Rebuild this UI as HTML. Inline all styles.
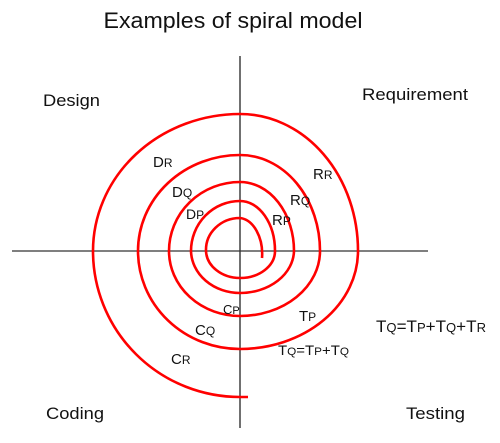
<!DOCTYPE html>
<html><head><meta charset="utf-8"><style>
html,body{margin:0;padding:0;background:#fff;}
svg text{font-family:"Liberation Sans",sans-serif;fill:#111;}
.s{font-size:12px}
</style></head><body>
<svg width="500" height="438" viewBox="0 0 500 438" xmlns="http://www.w3.org/2000/svg">
<text x="233" y="28" font-size="22.5" text-anchor="middle" textLength="259" lengthAdjust="spacingAndGlyphs">Examples of spiral model</text>
<line x1="240" y1="56" x2="240" y2="428" stroke="#111" stroke-width="1.2"/>
<line x1="12" y1="251" x2="428" y2="251" stroke="#333" stroke-width="1.2"/>
<path fill="none" stroke="#f00" stroke-width="2.6" d="M262,258 A24,36 0 0 0 240,218 A34,32 0 0 0 206,251 A34,28 0 0 0 240,278 A35,27 0 0 0 275,251 A35,50 0 0 0 240,201 A49,50 0 0 0 191,251 A49,43 0 0 0 240,293 A54,43 0 0 0 294,251 A54,69 0 0 0 240,182 A71,69 0 0 0 169,251 A71,65 0 0 0 240,316 A80,65 0 0 0 320,251 A80,96 0 0 0 240,155 A102,96 0 0 0 138,251 A102,98 0 0 0 240,349 A118,98 0 0 0 358,251 A118,137 0 0 0 240,114 A147,137 0 0 0 93,251 A147,146 0 0 0 240,397 L248,397"/>
<g font-size="17">
<text x="43" y="106" textLength="57" lengthAdjust="spacingAndGlyphs">Design</text>
<text x="362" y="100" textLength="106" lengthAdjust="spacingAndGlyphs">Requirement</text>
<text x="46" y="419" textLength="58" lengthAdjust="spacingAndGlyphs">Coding</text>
<text x="406" y="419" textLength="59" lengthAdjust="spacingAndGlyphs">Testing</text>
</g>
<g font-size="15">
<text x="153" y="167">D<tspan class="s">R</tspan></text>
<text x="172" y="197">D<tspan class="s">Q</tspan></text>
<text x="186" y="219" font-size="14">D<tspan class="s">P</tspan></text>
<text x="313" y="179">R<tspan class="s">R</tspan></text>
<text x="290" y="205">R<tspan class="s">Q</tspan></text>
<text x="272" y="225">R<tspan class="s">P</tspan></text>
<text x="223" y="314" font-size="13"><tspan>C</tspan><tspan font-size="11">P</tspan></text>
<text x="195" y="335">C<tspan class="s">Q</tspan></text>
<text x="171" y="364">C<tspan class="s">R</tspan></text>
<text x="299" y="321">T<tspan class="s">P</tspan></text>
<text x="278" y="355" font-size="14" textLength="71" lengthAdjust="spacingAndGlyphs">T<tspan font-size="11">Q</tspan>=T<tspan font-size="11">P</tspan>+T<tspan font-size="11">Q</tspan></text>
</g>
<text x="376" y="332" font-size="17" textLength="110" lengthAdjust="spacingAndGlyphs">T<tspan font-size="13">Q</tspan>=T<tspan font-size="13">P</tspan>+T<tspan font-size="13">Q</tspan>+T<tspan font-size="13">R</tspan></text>
</svg>
</body></html>
